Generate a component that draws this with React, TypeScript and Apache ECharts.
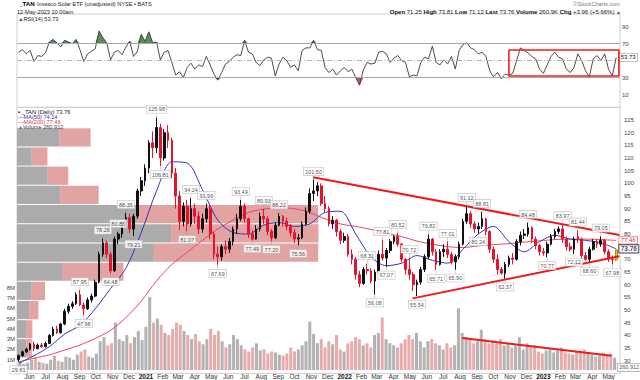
import React, { useEffect, useRef } from "react";
import * as echarts from "echarts";

const DAY = 86400000;
const FONT = "'Liberation Sans', Arial, sans-serif";
const MONTHS = ["Jan", "Feb", "Mar", "Apr", "May", "Jun", "Jul", "Aug", "Sep", "Oct", "Nov", "Dec"];

const ymd = (s: string) => {
  const [y, m, d] = s.split("-").map(Number);
  return new Date(y, m - 1, d).getTime();
};

// weekly bars (Friday of each week), first week ending 2020-05-15
const firstWeek = "2020-05-15";
const axisStart = "2020-05-12";
const axisEnd = "2023-05-19";
const weekTime = (k: number) => ymd(firstWeek) + k * 7 * DAY;

// weekly candles: [open, close, low, high]
const candles: number[][] = [
  [30.5, 32, 29.61, 32.5], [32, 33.5, 31.5, 34], [33.5, 34.5, 33, 35.2], [34.5, 36.5, 34, 37], [36.5, 34.8, 33.8, 37.5],
  [34.8, 36.2, 34.5, 36.8], [36.2, 35.5, 35, 37], [35.5, 36.8, 35.2, 37.5], [36.8, 40, 36.5, 40.5], [40, 42.5, 39.5, 43.5],
  [42.5, 41, 40.5, 43.8], [41, 44.5, 40.8, 45], [44.5, 49.5, 44, 50.5], [49.5, 51.5, 48.5, 52.5], [51.5, 52.5, 50.5, 53.5],
  [52.5, 56, 52, 57], [56, 52, 51.5, 57.95], [52, 50.5, 47.98, 53], [50.5, 54, 50, 55], [54, 55.5, 53, 56.5],
  [55.5, 61, 55, 62], [61, 72, 60.5, 73], [72, 76.5, 71, 78.26], [76.5, 72, 70.5, 77.5], [72, 65.5, 64.48, 73],
  [65.5, 78, 65, 79], [78, 80, 76, 80.85], [80, 84, 78.5, 85], [84, 86.5, 83, 88.35], [86.5, 82, 80.5, 88],
  [82, 87, 79.21, 88], [87, 97, 86, 98], [97, 101, 95, 102.5], [101, 106, 99, 107.5], [106, 116, 104, 117],
  [116, 114, 110, 120.5], [114, 122, 112, 125.98], [122, 110, 106.81, 123.5], [110, 120, 109, 121.5], [120, 117, 114, 123],
  [117, 104, 102, 118], [104, 95, 90, 106], [95, 85, 81.5, 97], [85, 91, 83, 92.5], [91, 84, 81.07, 93.5],
  [84, 90, 83, 94.24], [90, 87, 84, 92], [87, 82, 80, 89], [82, 86, 80.5, 88], [86, 90, 84.5, 91.96],
  [90, 80, 78, 91], [80, 72, 70, 81], [72, 71, 67.69, 75], [71, 75, 69.5, 76], [75, 74, 72, 77.5],
  [74, 77, 72.5, 78.5], [77, 82, 75.5, 83], [82, 86, 80, 88], [86, 91, 85, 93.49], [91, 86, 84.5, 92],
  [86, 80, 78.5, 86.5], [80, 78, 77.49, 81.5], [78, 82, 77.8, 83.5], [82, 87, 81, 88.5], [87, 86, 84, 89.93],
  [86, 81, 79.5, 87], [81, 78.5, 77.2, 82], [78.5, 83.5, 78, 84.5], [83.5, 87, 83, 88.22], [87, 85, 83, 87.5],
  [85, 83, 81.5, 86.5], [83, 80.5, 79, 84], [80.5, 78, 76.5, 82], [78, 78.5, 75.56, 80], [78.5, 84, 78, 85],
  [84, 89, 83.5, 90.5], [89, 96, 88, 98], [96, 97, 93, 101.5], [97, 99, 95, 100.5], [99, 92, 91, 100],
  [92, 90, 88.5, 95], [90, 84, 83, 91], [84, 85.5, 82, 87], [85.5, 81, 79, 86], [81, 77.5, 76, 82],
  [77.5, 79, 76.5, 80.5], [79, 72, 71, 80], [72, 70, 68, 74], [70, 64, 62, 71], [64, 60.5, 59, 65.5],
  [60.5, 66, 60, 67], [66, 65.5, 64, 68.31], [65.5, 61.5, 60.5, 66.5], [61.5, 65, 56.08, 66], [65, 72, 64.5, 73.5],
  [72, 70.5, 69.5, 77.81], [70.5, 73.5, 67.07, 74.5], [73.5, 77, 72.5, 78], [77, 79, 76, 79.5], [79, 76, 75, 80.52],
  [76, 70, 69, 76.5], [70, 66, 64, 70.5], [66, 64, 62, 70.72], [64, 60, 57.5, 65], [60, 61, 55.54, 62],
  [61, 66, 60, 67], [66, 71, 65, 72], [71, 78, 70, 79.82], [78, 73, 71.5, 78.5], [73, 68, 65.71, 74],
  [68, 73, 67.5, 74], [73, 74, 71, 76], [74, 72, 70.5, 77.01], [72, 69, 68, 73], [69, 71, 65.9, 72],
  [71, 76, 70, 77], [76, 85, 75.5, 86], [85, 88, 84, 91.12], [88, 84, 82.5, 89], [84, 82, 80.5, 85],
  [82, 83, 80.24, 84.5], [83, 86, 82, 88.81], [86, 81, 79.5, 86.5], [81, 74, 72.5, 81.5], [74, 70, 68.5, 75],
  [70, 66, 64, 72], [66, 64.5, 64, 67], [64.5, 68, 62.37, 69], [68, 70.5, 67, 71.5], [70.5, 70, 68, 72.5],
  [70, 77, 69.5, 78], [77, 79.5, 75.5, 81], [79.5, 80, 78, 82], [80, 82.5, 79, 84.48], [82.5, 78, 76.5, 83],
  [78, 75.5, 74, 79], [75.5, 73, 71.5, 76], [73, 72.5, 71.5, 74.5], [72.5, 76, 70.77, 77], [76, 79, 75.5, 80],
  [79, 81, 78, 82], [81, 82, 80, 83], [82, 78, 76.5, 83.97], [78, 75, 73.5, 79], [75, 74, 73, 76.5],
  [74, 78, 72.12, 79], [79, 78, 76.5, 81.44], [78, 71.5, 70, 78.5], [71.5, 70, 69.5, 73], [70, 74, 68.6, 75],
  [74, 77, 73.5, 78], [77, 76, 74.5, 78], [76, 77.5, 75, 79.05], [77.5, 73, 72, 78], [73, 70, 69, 74],
  [70, 69.8, 67.98, 71.5], [69.8, 73.76, 69.2, 73.81],
];

// representative daily volume for each week, millions of shares
const volumes: number[] = [
  0.9, 0.6, 0.7, 1.0, 1.2, 0.8, 0.7, 0.6, 1.0, 1.4,
  0.9, 0.8, 1.3, 1.2, 1.0, 1.5, 1.8, 2.0, 1.3, 1.2,
  1.6, 2.8, 3.2, 2.4, 2.6, 4.6, 3.0, 2.8, 3.4, 2.6,
  3.2, 3.8, 2.9, 4.2, 7.1, 4.6, 5.0, 4.4, 3.6, 3.4,
  4.0, 4.6, 4.4, 3.8, 3.4, 3.0, 3.5, 2.8, 2.5, 3.0,
  4.0, 3.4, 3.8, 2.8, 2.2, 2.5, 3.4, 3.0, 2.4, 2.0,
  1.8, 2.2, 2.6, 1.9, 2.0, 1.6, 1.8, 1.7, 1.5, 1.4,
  1.6, 2.2, 1.8, 2.0, 2.4, 2.8, 4.7, 3.5, 2.6, 3.0,
  2.2, 2.8, 2.5, 3.4, 2.0, 1.8, 2.6, 2.8, 3.2, 3.0,
  2.4, 2.6, 2.2, 3.4, 3.6, 5.1, 3.0, 2.6, 2.4, 2.2,
  2.6, 3.0, 3.4, 3.0, 3.6, 2.8, 2.2, 2.8, 3.0, 2.6,
  2.4, 2.0, 2.6, 2.2, 2.4, 6.0, 3.6, 3.2, 3.0, 2.6,
  2.8, 3.9, 3.0, 2.6, 2.8, 2.6, 3.0, 2.4, 2.5, 2.2,
  2.4, 3.2, 2.0, 2.6, 2.2, 2.4, 1.8, 1.6, 1.9, 2.0,
  1.7, 1.9, 2.2, 1.7, 1.6, 1.5, 1.8, 1.9, 2.0, 1.6,
  1.5, 1.3, 1.4, 1.7, 1.5, 1.6, 1.2,
];
const lastDayVolume = 260912;

// RSI(14), one reading per week
const rsi: number[] = [
  60, 63, 58, 62, 49, 56, 55, 59, 72, 75,
  71, 66, 74, 72, 70, 75, 63, 49, 58, 61,
  64, 85, 77, 71, 51, 60, 62, 57, 66, 73,
  55, 61, 81, 73, 84, 71, 72, 51, 60, 62,
  48, 33, 37, 30, 42, 47, 40, 45, 43, 55,
  45, 34, 27, 36, 46, 49, 54, 57, 56, 74,
  60, 58, 48, 44, 51, 54, 53, 32, 46, 54,
  50, 42, 45, 38, 62, 65, 65, 74, 63, 62,
  42, 36, 40, 33, 38, 42, 37, 40, 30, 21,
  39, 48, 46, 47, 60, 61, 58, 48, 53, 56,
  50, 48, 31, 33, 32, 48, 54, 52, 67, 48,
  45, 51, 46, 55, 40, 62, 69, 71, 65, 63,
  58, 60, 55, 38, 31, 36, 29, 34, 33, 35,
  50, 65, 62, 59, 55, 52, 40, 35, 45, 55,
  60, 54, 52, 40, 36, 42, 58, 50, 38, 31,
  52, 56, 50, 58, 40, 32, 53.73,
];

// moving averages sampled every 4 weeks
const maSampleStep = 4;
const ma50: number[] = [
  29, 32, 35.5, 40.5, 44, 50.5, 58.5, 66.5, 80.5, 97,
  108.5, 108, 97.5, 85.5, 80.6, 80, 83.5, 84.5, 83, 84,
  88.5, 89, 80, 71, 67.5, 68.5, 71.5, 69.6, 68.5, 74,
  80, 83, 77, 73, 77, 79.5, 78, 77.5, 76.5, 74.14,
];
const ma200: number[] = [
  29.5, 31, 32.3, 34.2, 36.2, 38.8, 42, 47, 53.5, 61.5,
  68, 72.8, 77.5, 82, 85.5, 88.5, 89.8, 90.3, 90, 88.5,
  86, 84, 83, 81.8, 80.3, 79, 77.2, 76, 75, 74.7,
  75.3, 75.8, 76.2, 76.8, 77.3, 77.8, 78, 78, 77.8, 77.46,
];

// swing-point annotations (week indexes)
const peakWeeks = [16, 22, 26, 28, 36, 45, 49, 58, 64, 68, 77, 91, 95, 99, 102, 107, 112, 117, 121, 133, 142, 146, 152];
const troughWeeks = [0, 17, 24, 30, 37, 44, 52, 61, 66, 73, 93, 96, 104, 109, 114, 120, 127, 138, 145, 149, 155];

// volume by price buckets (price range, up volume, down volume)
const vbpLow = [30.9, 38.5, 46.0, 53.6, 61.2, 68.7, 76.3, 83.9, 91.4, 99.0, 106.6, 114.1];
const vbpHigh = [38.5, 46.0, 53.6, 61.2, 68.7, 76.3, 83.9, 91.4, 99.0, 106.6, 114.1, 121.7];
const vbpUp = [3.2, 3.0, 4.0, 4.9, 15.2, 45.4, 51.1, 40.0, 14.3, 10.2, 4.9, 14.0];
const vbpDown = [1.7, 2.1, 3.1, 4.4, 20.1, 54.5, 48.9, 59.9, 12.8, 6.8, 5.2, 10.4];

// drawn trendlines and boxes
const upperTrendDates = ["2021-11-04", "2023-05-18"];
const upperTrendPrices = [102.4, 79.6];
const lowerTrendDates = ["2022-05-05", "2023-05-18"];
const lowerTrendPrices = [54.6, 71.2];
const volumeTrendDates = ["2022-08-05", "2023-05-06"];
const volumeTrendValues = [3.1, 1.38];
const rsiBoxDates = ["2022-10-28", "2023-05-17"];
const rsiBoxLevels = [62.5, 31.9];
const rsiLevels = [70, 50, 30];
const rsiOverbought = 70;
const rsiOversold = 30;

// axis labels covered by value boxes in the reference
const hiddenPriceLabels = [75];
const hiddenRsiLabels = [50];

const labelBox = {
  fontSize: 5.5,
  fontFamily: FONT,
  color: "#222",
  backgroundColor: "#fff",
  borderColor: "#b8b8b8",
  borderWidth: 0.6,
  padding: [1, 1.5, 0.5, 1.5],
};

function buildOption(): any {
  const tMin = ymd(axisStart);
  const tMax = ymd(axisEnd);
  const last = candles.length - 1;
  const isUp = (i: number) => candles[i][1] >= candles[i][0];

  const candleData = candles.map((c, i) => {
    const item: any = { value: [weekTime(i), c[0], c[1], c[2], c[3]] };
    if (i === last) item.itemStyle = { color: "#e2c31c", borderColor: "#a98f0c" };
    return item;
  });

  const timeAxisBase = { type: "time", min: tMin, max: tMax };
  const trend = (dates: string[], vals: number[]) => dates.map((d, i) => [ymd(d), vals[i]]);

  return {
    animation: false,
    backgroundColor: "#fff",
    textStyle: { fontFamily: FONT },
    grid: [
      { left: 17, right: 20, top: 14, height: 93.3, show: true, borderColor: "#cfcfcf", borderWidth: 1 },
      { left: 17, right: 20, top: 107.3, height: 266.1, show: true, borderColor: "#cfcfcf", borderWidth: 1 },
      { left: 17, right: 20, top: 287.7, height: 83.4, show: false },
    ],
    xAxis: [
      { ...timeAxisBase, gridIndex: 0, show: false },
      { ...timeAxisBase, gridIndex: 1, show: false },
      {
        ...timeAxisBase,
        gridIndex: 2,
        splitNumber: 36,
        minInterval: 28 * DAY,
        maxInterval: 31 * DAY,
        axisLine: { show: false },
        axisTick: { show: false },
        splitLine: { show: false },
        axisLabel: {
          fontSize: 6.5,
          color: "#333",
          margin: 3,
          showMinLabel: false,
          showMaxLabel: false,
          formatter: (v: number) => {
            const d = new Date(v);
            if (d.getDate() !== 1) return "";
            return d.getMonth() === 0 ? `{y|${d.getFullYear()}}` : MONTHS[d.getMonth()];
          },
          rich: { y: { fontWeight: "bold", fontSize: 6.5, color: "#111", fontFamily: FONT } },
        },
      },
      { type: "value", gridIndex: 1, min: 0, max: 200, show: false },
    ],
    yAxis: [
      {
        type: "value",
        gridIndex: 0,
        position: "right",
        min: -5,
        max: 105,
        axisLine: { show: false },
        axisTick: { show: false },
        splitLine: { show: false },
        axisLabel: {
          customValues: [10, 30, 50, 70, 90],
          fontSize: 6,
          color: "#444",
          margin: 2,
          formatter: (v: number) => (hiddenRsiLabels.includes(v) ? "" : String(v)),
        },
      },
      {
        type: "value",
        gridIndex: 1,
        position: "right",
        min: 25,
        max: 130,
        interval: 5,
        axisLine: { show: false },
        axisTick: { show: false },
        splitLine: { show: false },
        axisLabel: {
          fontSize: 6,
          color: "#444",
          margin: 4,
          showMinLabel: false,
          showMaxLabel: false,
          formatter: (v: number) => (hiddenPriceLabels.includes(v) ? "" : String(v)),
        },
      },
      {
        type: "value",
        gridIndex: 2,
        position: "left",
        min: 0,
        max: 8,
        interval: 1,
        axisLine: { show: false },
        axisTick: { show: false },
        splitLine: { show: false },
        axisLabel: { fontSize: 6, color: "#444", margin: 2, showMinLabel: false, formatter: (v: number) => `${v}M` },
      },
    ],
    series: [
      // volume by price
      {
        type: "custom",
        xAxisIndex: 3,
        yAxisIndex: 1,
        z: 1,
        silent: true,
        encode: { x: [2, 3], y: [0, 1] },
        data: vbpLow.map((lo, i) => [lo, vbpHigh[i], vbpUp[i], vbpDown[i]]),
        renderItem: (_p: any, api: any) => {
          const lo = api.value(0);
          const hi = api.value(1);
          const up = api.value(2);
          const dn = api.value(3);
          const a = api.coord([0, hi]);
          const b = api.coord([up, lo]);
          const c = api.coord([up + dn, lo]);
          const h = b[1] - a[1] - 1;
          return {
            type: "group",
            children: [
              { type: "rect", shape: { x: a[0], y: a[1], width: b[0] - a[0], height: h }, style: { fill: "#ababab" } },
              { type: "rect", shape: { x: b[0], y: a[1], width: c[0] - b[0], height: h }, style: { fill: "#e2a3a3" } },
            ],
          };
        },
      },
      // volume bars
      {
        type: "bar",
        xAxisIndex: 2,
        yAxisIndex: 2,
        z: 1,
        barWidth: 3,
        silent: true,
        data: volumes.map((v, i) => ({
          value: [weekTime(i), v],
          itemStyle: { color: isUp(i) ? "#b2b2b2" : "#e8abab" },
        })),
      },
      // volume trendline
      {
        type: "line",
        xAxisIndex: 2,
        yAxisIndex: 2,
        z: 5,
        symbol: "none",
        silent: true,
        lineStyle: { color: "#f01a1a", width: 2 },
        data: trend(volumeTrendDates, volumeTrendValues),
      },
      // last volume label
      {
        type: "scatter",
        xAxisIndex: 2,
        yAxisIndex: 2,
        symbolSize: 0,
        z: 7,
        silent: true,
        data: [[weekTime(last), lastDayVolume / 1e6]],
        label: {
          show: true,
          position: "right",
          distance: 3,
          formatter: () => lastDayVolume.toLocaleString("en-US"),
          ...labelBox,
          borderColor: "#888",
        },
      },
      // MA200
      {
        type: "line",
        xAxisIndex: 1,
        yAxisIndex: 1,
        z: 3,
        smooth: 0.3,
        symbol: "none",
        silent: true,
        lineStyle: { color: "#e5485f", width: 1 },
        data: ma200.map((v, i) => [weekTime(i * maSampleStep), v]),
        endLabel: {
          show: true,
          distance: 3,
          formatter: (p: any) => p.value[1].toFixed(2),
          ...labelBox,
          fontSize: 6,
          color: "#d32f4a",
          borderColor: "#e5485f",
          padding: [0.5, 1.5, 0, 1.5],
        },
      },
      // MA50
      {
        type: "line",
        xAxisIndex: 1,
        yAxisIndex: 1,
        z: 3,
        smooth: 0.3,
        symbol: "none",
        silent: true,
        lineStyle: { color: "#3434b8", width: 1 },
        data: ma50.map((v, i) => [weekTime(i * maSampleStep), v]),
      },
      // candles
      {
        type: "candlestick",
        xAxisIndex: 1,
        yAxisIndex: 1,
        z: 4,
        barWidth: 2.2,
        silent: true,
        encode: { x: 0, y: [1, 2, 3, 4] },
        itemStyle: { color: "#111", color0: "#e4142c", borderColor: "#111", borderColor0: "#e4142c", borderWidth: 1 },
        data: candleData,
      },
      // price trendlines
      {
        type: "line",
        xAxisIndex: 1,
        yAxisIndex: 1,
        z: 5,
        symbol: "none",
        silent: true,
        lineStyle: { color: "#f01a1a", width: 2 },
        data: trend(upperTrendDates, upperTrendPrices),
      },
      {
        type: "line",
        xAxisIndex: 1,
        yAxisIndex: 1,
        z: 5,
        symbol: "none",
        silent: true,
        lineStyle: { color: "#f01a1a", width: 2 },
        data: trend(lowerTrendDates, lowerTrendPrices),
      },
      // peak labels
      {
        type: "scatter",
        xAxisIndex: 1,
        yAxisIndex: 1,
        z: 6,
        silent: true,
        symbol: "rect",
        symbolSize: [0.6, 3],
        symbolOffset: [0, -2],
        itemStyle: { color: "#999" },
        data: peakWeeks.map((k) => [weekTime(k), candles[k][3]]),
        label: { show: true, position: "top", distance: 1, formatter: (p: any) => p.value[1].toFixed(2), ...labelBox },
      },
      // trough labels
      {
        type: "scatter",
        xAxisIndex: 1,
        yAxisIndex: 1,
        z: 6,
        silent: true,
        symbol: "rect",
        symbolSize: [0.6, 3],
        symbolOffset: [0, 2],
        itemStyle: { color: "#999" },
        data: troughWeeks.map((k) => [weekTime(k), candles[k][2]]),
        label: { show: true, position: "bottom", distance: 1, formatter: (p: any) => p.value[1].toFixed(2), ...labelBox },
      },
      // last price label
      {
        type: "scatter",
        xAxisIndex: 1,
        yAxisIndex: 1,
        z: 8,
        silent: true,
        symbolSize: 0,
        data: [[weekTime(last), candles[last][1]]],
        label: {
          show: true,
          position: "right",
          distance: 3,
          offset: [0, -1],
          formatter: (p: any) => p.value[1].toFixed(2),
          ...labelBox,
          fontSize: 6.5,
          fontWeight: "bold",
          color: "#10104a",
          borderColor: "#111",
          borderWidth: 0.9,
          padding: [0.5, 1.5, 0, 1.5],
        },
      },
      // RSI overbought fill
      {
        type: "line",
        xAxisIndex: 0,
        yAxisIndex: 0,
        z: 2,
        symbol: "none",
        silent: true,
        lineStyle: { width: 0, color: "#5b8a5b" },
        areaStyle: { origin: rsiOverbought, opacity: 1, color: "#5b8a5b" },
        data: rsi.map((v, i) => [weekTime(i), Math.max(v, rsiOverbought)]),
      },
      // RSI oversold fill
      {
        type: "line",
        xAxisIndex: 0,
        yAxisIndex: 0,
        z: 2,
        symbol: "none",
        silent: true,
        lineStyle: { width: 0, color: "#b25c5c" },
        areaStyle: { origin: rsiOversold, opacity: 1, color: "#b25c5c" },
        data: rsi.map((v, i) => [weekTime(i), Math.min(v, rsiOversold)]),
      },
      // RSI box
      {
        type: "line",
        xAxisIndex: 0,
        yAxisIndex: 0,
        z: 5,
        symbol: "none",
        silent: true,
        lineStyle: { color: "#f21c1c", width: 1.6 },
        data: [
          [ymd(rsiBoxDates[0]), rsiBoxLevels[0]],
          [ymd(rsiBoxDates[1]), rsiBoxLevels[0]],
          [ymd(rsiBoxDates[1]), rsiBoxLevels[1]],
          [ymd(rsiBoxDates[0]), rsiBoxLevels[1]],
          [ymd(rsiBoxDates[0]), rsiBoxLevels[0]],
        ],
      },
      // RSI line
      {
        type: "line",
        xAxisIndex: 0,
        yAxisIndex: 0,
        z: 3,
        symbol: "none",
        silent: true,
        lineStyle: { color: "#3a3a3a", width: 0.9 },
        data: rsi.map((v, i) => [weekTime(i), v]),
        endLabel: {
          show: true,
          distance: 3,
          formatter: (p: any) => p.value[1].toFixed(2),
          ...labelBox,
          fontSize: 6,
          borderColor: "#999",
        },
        markLine: {
          silent: true,
          symbol: ["none", "none"],
          label: { show: false },
          data: rsiLevels.map((lv) => ({
            yAxis: lv,
            lineStyle: lv === 50
              ? { color: "#b5b5b5", width: 1, type: [5, 2, 1, 2] }
              : { color: "#a8a8a8", width: 1, type: "solid" },
          })),
        },
      },
    ],
    graphic: [
      { type: "text", x: 19, y: 0.5, z: 100, style: { text: "_TAN", font: `bold 6.2px ${FONT}`, fill: "#000", verticalAlign: "top" } },
      {
        type: "text",
        x: 37,
        y: 1.3,
        z: 100,
        style: { text: "Invesco Solar ETF (unadjusted) NYSE • BATS", font: `5.6px ${FONT}`, fill: "#222", verticalAlign: "top" },
      },
      { type: "text", x: 17, y: 8.5, z: 100, style: { text: "12-May-2023 10:00am", font: `5.6px ${FONT}`, fill: "#222", verticalAlign: "top" } },
      {
        type: "text",
        x: 18,
        y: 15.5,
        z: 100,
        style: {
          text: "{g|▲}RSI(14) 53.73",
          font: `5.6px ${FONT}`,
          fill: "#222",
          verticalAlign: "top",
          rich: { g: { fill: "#3f6f3f", fontSize: 5.6, fontFamily: FONT } },
        },
      },
      {
        type: "text",
        x: 620,
        y: 1,
        z: 100,
        style: { text: "©StockCharts.com", font: `5.6px ${FONT}`, fill: "#777", align: "right", verticalAlign: "top" },
      },
      {
        type: "text",
        x: 621,
        y: 8.8,
        z: 100,
        style: {
          text: "{b|Open} 71.25 {b|High} 73.81 {b|Low} 71.12 {b|Last} 73.76 {b|Volume} 260.9K {b|Chg} +3.96 (+5.66%) {g|▲}",
          font: `6px ${FONT}`,
          fill: "#222",
          align: "right",
          verticalAlign: "top",
          rich: {
            b: { fontWeight: "bold", fontSize: 6, fontFamily: FONT, fill: "#111" },
            g: { fontSize: 5, fontFamily: FONT, fill: "#2c7a2c" },
          },
        },
      },
      {
        type: "text",
        x: 18,
        y: 111.5,
        z: 100,
        style: {
          text: "{i|▪} _TAN (Daily) 73.76",
          font: `5.8px ${FONT}`,
          fill: "#222",
          verticalAlign: "middle",
          rich: { i: { fontSize: 6, fontFamily: FONT, fill: "#111" } },
        },
      },
      {
        type: "text",
        x: 18,
        y: 116.8,
        z: 100,
        style: { text: "—MA(50) 74.14", font: `5.6px ${FONT}`, fill: "#3434b8", verticalAlign: "middle" },
      },
      {
        type: "text",
        x: 18,
        y: 122.1,
        z: 100,
        style: { text: "—MA(200) 77.46", font: `5.6px ${FONT}`, fill: "#e0304c", verticalAlign: "middle" },
      },
      {
        type: "text",
        x: 18,
        y: 127,
        z: 100,
        style: {
          text: "{i|▲}Volume 260,912",
          font: `5.6px ${FONT}`,
          fill: "#444",
          verticalAlign: "middle",
          rich: { i: { fontSize: 5, fontFamily: FONT, fill: "#666" } },
        },
      },
    ],
  };
}

export default function App() {
  const ref = useRef<HTMLDivElement>(null);
  useEffect(() => {
    if (!ref.current) return;
    const chart = echarts.init(ref.current, undefined, { renderer: "svg" });
    chart.setOption(buildOption());
    return () => chart.dispose();
  }, []);
  return (
    <div
      ref={ref}
      style={{ position: "fixed", left: 0, top: 0, width: 640, height: 380, background: "#fff" }}
    />
  );
}
